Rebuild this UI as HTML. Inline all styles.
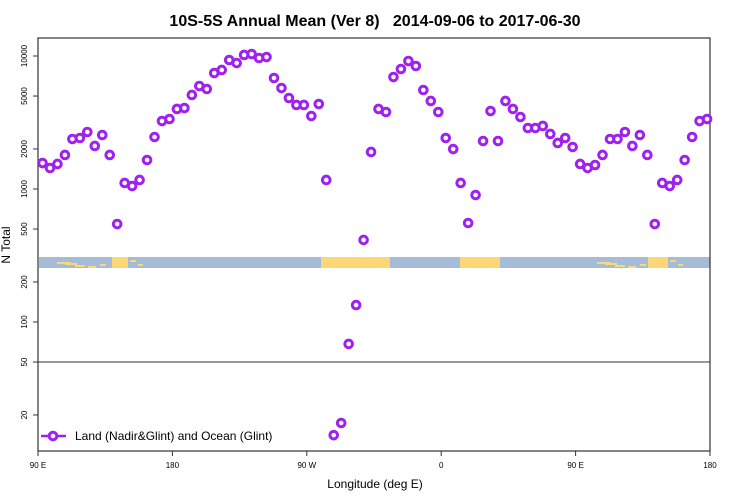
<!DOCTYPE html>
<html><head><meta charset="utf-8"><style>
body{margin:0;background:#fff;width:750px;height:500px;overflow:hidden}
svg{display:block;font-family:"Liberation Sans",sans-serif}
</style></head><body>
<svg id="chart" width="750" height="500"></svg>
<script>
const lons = Array.from({length:90},(_,i)=>92.5+5*i);
const values = [1568,1438,1542,1802,2377,2418,2683,2106,2547,1802,545,1110,1053,1169,1652,2460,3243,3360,3997,4063,5093,5945,5649,7447,7852,9330,8855,10180,10350,9660,9820,6834,5745,4833,4283,4283,3537,4355,1169,14.1,17.4,68.4,134,414,1898,3997,3793,6950,7985,9166,8410,5550,4590,3793,2418,1998,1110,555,901,2296,3857,2296,4590,3997,3477,2875,2875,2977,2592,2218,2418,2069,1542,1438,1515,1802,2377,2377,2683,2106,2547,1802,545,1110,1053,1169,1652,2460,3243,3360];
const yTicks = [20,50,100,200,500,1000,2000,5000,10000];
const xTickLabels = ["90 E","180","90 W","0","90 E","180"];
const xTickVals = [90,180,270,360,450,540];

const NS="http://www.w3.org/2000/svg";
const svg=document.getElementById('chart');
const L=38,R=710,T=38,B=451;
const xs=v=>L+(v-90)/450*(R-L);
const ys=v=>189-133*Math.log10(v/1000);
function el(t,a,p){const e=document.createElementNS(NS,t);for(const k in a)e.setAttribute(k,a[k]);(p||svg).appendChild(e);return e;}

// title
let t=el('text',{x:375,y:26,'text-anchor':'middle','font-size':16,'font-weight':'bold',fill:'#000',style:'white-space:pre'});
t.textContent='10S-5S Annual Mean (Ver 8)   2014-09-06 to 2017-06-30';



// map strip
const strip=el('g',{});


el('rect',{x:L+1,y:257,width:R-L-1,height:11,fill:'#a5bcd9'},strip);
const land=[[321,390],[460,500],[112,128],[648,668]];
land.forEach(s=>el('rect',{x:s[0],y:257,width:s[1]-s[0],height:11,fill:'#fdd775'},strip));
const isl=[[57,262,14],[65,263,12],[75,265,10],[88,266,8],[100,264,6],[130,260,6],[138,264,5],[597,262,14],[605,263,12],[615,265,10],[628,266,8],[640,264,6],[670,260,6],[678,264,5]];
isl.forEach(s=>el('rect',{x:s[0],y:s[1],width:s[2],height:2,fill:'#fdd775'},strip));

// axes box
const ax=el('rect',{x:L,y:T,width:R-L,height:B-T,fill:'none',stroke:'#333','stroke-width':1.2});


el('line',{x1:L,x2:R,y1:ys(50),y2:ys(50),stroke:'#333','stroke-width':1});

yTicks.forEach(v=>{
  const y=ys(v);
  el('line',{x1:L-5,x2:L,y1:y,y2:y,stroke:'#333'});
  const tx=el('text',{x:0,y:0,'font-size':8,'text-anchor':'middle',transform:`translate(27,${y}) rotate(-90)`});
  tx.textContent=v;
  
  
});
xTickVals.forEach((v,i)=>{
  const x=xs(v);
  el('line',{x1:x,x2:x,y1:B,y2:B+5,stroke:'#333'});
  const tx=el('text',{x:x,y:468,'font-size':8,'text-anchor':'middle'});
  tx.textContent=xTickLabels[i];
  
  
});
let xl=el('text',{x:375,y:488,'text-anchor':'middle','font-size':12});
xl.textContent='Longitude (deg E)';


let yl=el('text',{x:0,y:0,'text-anchor':'middle','font-size':12,transform:'translate(10,245) rotate(-90)'});
yl.textContent='N Total';



// points
lons.forEach((lo,i)=>{
  const c=el('circle',{cx:xs(lo)+0.8,cy:ys(values[i]),r:3.8,fill:'none',stroke:'#a020f0','stroke-width':3});
  
  
});

// legend
const lg=el('g',{});


el('line',{x1:41,x2:66,y1:436,y2:436,stroke:'#a020f0','stroke-width':2.6},lg);
el('circle',{cx:53,cy:436,r:3.8,fill:'#fff',stroke:'#a020f0','stroke-width':3},lg);
const lt=el('text',{x:75,y:440,'font-size':12},lg);
lt.textContent='Land (Nadir&Glint) and Ocean (Glint)';
</script>
</body></html>
